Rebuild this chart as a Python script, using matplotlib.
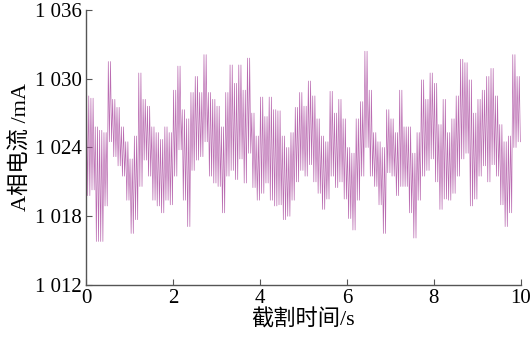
import numpy as np
import matplotlib
matplotlib.use("Agg")
import matplotlib.pyplot as plt

# envelope, one window per 0.1 s: upper and lower excursion (mA)
win_start = np.arange(0, 10, 0.1)
hi = [1028.5, 1028.3, 1025.8, 1025.5, 1025.3, 1031.5, 1028.2, 1027.5, 1025.8, 1024.5,
      1023.0, 1025.0, 1030.5, 1028.2, 1027.6, 1025.8, 1025.3, 1024.7, 1025.8, 1025.3,
      1029.0, 1031.1, 1027.3, 1026.5, 1028.8, 1030.2, 1028.8, 1032.1, 1028.8, 1028.2,
      1027.6, 1025.8, 1028.8, 1031.2, 1029.6, 1031.2, 1029.0, 1031.8, 1027.0, 1025.0,
      1028.4, 1026.7, 1028.4, 1027.3, 1027.2, 1025.0, 1024.0, 1025.3, 1027.5, 1028.8,
      1027.6, 1029.8, 1028.5, 1026.5, 1025.0, 1024.5, 1028.9, 1027.0, 1028.2, 1026.5,
      1024.0, 1023.5, 1026.5, 1028.0, 1032.4, 1029.0, 1025.3, 1024.5, 1024.0, 1027.3,
      1026.5, 1025.3, 1029.0, 1025.8, 1025.8, 1023.5, 1025.3, 1029.9, 1028.2, 1030.5,
      1029.6, 1026.0, 1028.2, 1025.3, 1026.5, 1028.5, 1031.7, 1031.4, 1029.9, 1027.0,
      1028.2, 1029.0, 1030.2, 1030.9, 1028.5, 1026.0, 1024.5, 1025.0, 1032.1, 1030.2]
lo = [1019.8, 1020.3, 1015.8, 1015.8, 1018.9, 1024.5, 1023.2, 1022.4, 1021.5, 1019.4,
      1016.5, 1017.7, 1020.6, 1022.9, 1021.5, 1019.4, 1018.9, 1018.3, 1019.4, 1019.0,
      1021.5, 1023.8, 1019.4, 1017.1, 1022.0, 1022.9, 1023.2, 1024.5, 1021.5, 1020.9,
      1020.6, 1018.3, 1021.5, 1022.0, 1021.2, 1023.0, 1020.9, 1023.5, 1020.5, 1019.4,
      1020.0, 1020.9, 1019.4, 1018.9, 1019.0, 1017.7, 1018.0, 1019.4, 1021.0, 1022.0,
      1021.5, 1022.5, 1021.0, 1020.0, 1018.6, 1019.5, 1021.5, 1020.5, 1021.0, 1019.5,
      1017.8, 1016.8, 1019.4, 1021.5, 1024.0, 1021.5, 1020.6, 1019.0, 1016.5, 1021.8,
      1021.5, 1019.8, 1020.6, 1020.6, 1018.3, 1016.1, 1019.4, 1021.5, 1022.0, 1023.0,
      1021.0, 1018.6, 1019.5, 1019.4, 1020.0, 1021.5, 1023.0, 1023.5, 1018.9, 1019.5,
      1021.5, 1022.4, 1021.0, 1022.5, 1021.5, 1019.0, 1017.1, 1018.3, 1024.0, 1024.5]

y_ticks = [1012, 1018, 1024, 1030, 1036]
y_labels = ["1 012", "1 018", "1 024", "1 030", "1 036"]
x_ticks = [0, 2, 4, 6, 8, 10]

# zigzag between upper and lower value, two swings per window
t = np.ravel(np.column_stack([win_start + 0.0125, win_start + 0.0375,
                              win_start + 0.0625, win_start + 0.0875]))
y = np.ravel(np.column_stack([hi, lo, hi, lo]))

fig = plt.figure(figsize=(5.31, 3.44), dpi=100)
ax = fig.add_axes([0.162, 0.1715, 0.819, 0.7995])

ax.plot(t, y, color="#a9479e", lw=0.5, alpha=0.8)

ax.set_xlim(0, 10)
ax.set_ylim(1012, 1036)
ax.set_xticks(x_ticks)
ax.set_yticks(y_ticks)
ax.set_yticklabels(y_labels)

serif = ["Liberation Serif", "Noto Sans CJK SC"]
for lab in ax.get_xticklabels() + ax.get_yticklabels():
    lab.set_family(serif)
    lab.set_fontsize(15)

ax.spines["top"].set_visible(False)
ax.spines["right"].set_visible(False)
for s in ["left", "bottom"]:
    ax.spines[s].set_color("#555555")
    ax.spines[s].set_linewidth(1.0)
ax.tick_params(direction="in", length=4, color="#555555", pad=3)

ax.set_xlabel("截割时间/s", family=serif, fontsize=16, labelpad=1)
ax.set_ylabel("A相电流 /mA", family=serif, fontsize=16, labelpad=2)

fig.savefig("out.png", dpi=100)
